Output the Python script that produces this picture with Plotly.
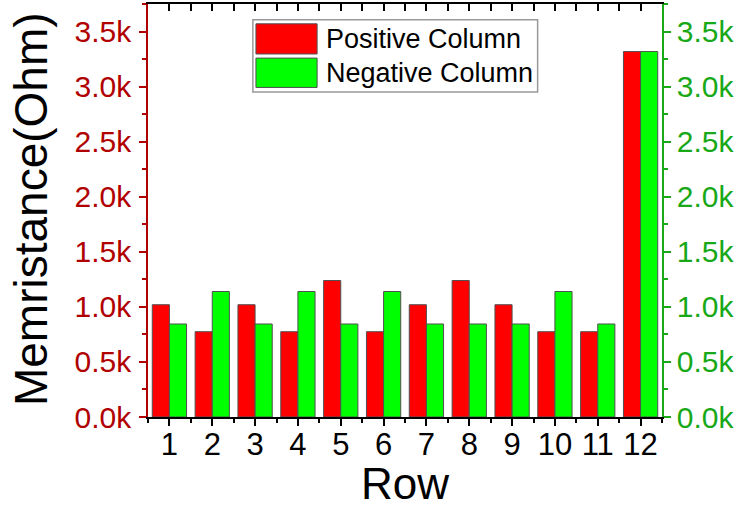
import plotly.graph_objects as go

rows = [1, 2, 3, 4, 5, 6, 7, 8, 9, 10, 11, 12]
positive_column = [1020, 775, 1020, 775, 1240, 775, 1020, 1240, 1020, 775, 775, 3320]
negative_column = [845, 1140, 845, 1140, 845, 1140, 845, 845, 845, 1140, 845, 3320]
ytick_vals = [0, 500, 1000, 1500, 2000, 2500, 3000, 3500]
ytick_text = ["0.0k", "0.5k", "1.0k", "1.5k", "2.0k", "2.5k", "3.0k", "3.5k"]
series_names = ["Positive Column", "Negative Column"]
y_title = "Memristance(Ohm)"

RED = "#FF0000"
GREEN = "#00FF00"
DARKRED = "#B00000"
DARKGREEN = "#18A818"
FONT = "Liberation Sans, Arial, sans-serif"
YMAX = 3752

fig = go.Figure()
fig.add_trace(go.Bar(x=rows, y=positive_column, name=series_names[0],
                     marker=dict(color=RED, line=dict(color="#505050", width=1)),
                     offset=-0.4, width=0.4, showlegend=False))
fig.add_trace(go.Bar(x=rows, y=negative_column, name=series_names[1],
                     marker=dict(color=GREEN, line=dict(color="#505050", width=1)),
                     offset=0.0, width=0.4, showlegend=False))
# helper trace to create the mirrored top/right axes
fig.add_trace(go.Scatter(x=rows, y=negative_column, xaxis="x2", yaxis="y2",
                         mode="markers", marker=dict(opacity=0), hoverinfo="skip",
                         showlegend=False))

fig.update_layout(
    width=747, height=508,
    margin=dict(l=148, r=85, t=4, b=91),
    paper_bgcolor="white", plot_bgcolor="white",
    font=dict(family=FONT, color="black"),
    xaxis=dict(range=[0.5, 12.5], tickmode="array", tickvals=rows,
               ticktext=[str(r) for r in rows],
               showline=True, linecolor="black", linewidth=1.5,
               ticks="outside", ticklen=7, tickwidth=1.5, tickcolor="black",
               minor=dict(tickmode="linear", tick0=0.5, dtick=1, ticks="outside",
                          ticklen=4, tickcolor="black", tickwidth=1.5),
               tickfont=dict(size=31, color="black", family=FONT),
               ticklabelstandoff=-8,
               showgrid=False, zeroline=False,
               title=dict(text="Row", font=dict(size=44, color="black", family=FONT),
                          standoff=0)),
    yaxis=dict(range=[0, YMAX], tickmode="array", tickvals=ytick_vals, ticktext=ytick_text,
               showline=True, linecolor=DARKRED, linewidth=1.5,
               ticks="outside", ticklen=7, tickwidth=1.5, tickcolor=DARKRED,
               minor=dict(tickmode="linear", tick0=0, dtick=250, ticks="outside",
                          ticklen=4, tickcolor=DARKRED, tickwidth=1.5),
               tickfont=dict(size=30, color=DARKRED, family=FONT),
               ticklabelstandoff=2,
               showgrid=False, zeroline=False),
    xaxis2=dict(range=[0.5, 12.5], overlaying="x", side="top", anchor="y2",
                tickmode="linear", tick0=0.5, dtick=0.5, ticks="inside",
                ticklen=7, tickwidth=1.5, tickcolor="black",
                showticklabels=False, showline=True, linecolor="black", linewidth=1.5,
                showgrid=False, zeroline=False),
    yaxis2=dict(range=[0, YMAX], overlaying="y", side="right", anchor="x2",
                tickmode="array", tickvals=ytick_vals, ticktext=ytick_text,
                showline=True, linecolor=DARKGREEN, linewidth=1.5,
                ticks="outside", ticklen=7, tickwidth=1.5, tickcolor=DARKGREEN,
                minor=dict(tickmode="linear", tick0=0, dtick=250, ticks="outside",
                           ticklen=4, tickcolor=DARKGREEN, tickwidth=1.5),
                tickfont=dict(size=30, color=DARKGREEN, family=FONT),
                showgrid=False, zeroline=False),
    bargap=0.2,
)

# Y axis title
fig.add_annotation(xref="paper", yref="paper", x=-0.228, y=0.503, text=y_title,
                   textangle=-90, showarrow=False, xanchor="center", yanchor="middle",
                   font=dict(size=46, color="black", family=FONT))

# Legend drawn as a boxed key
fig.add_shape(type="rect", xref="paper", yref="paper", x0=0.204, x1=0.758, y0=0.787, y1=0.962,
              line=dict(color="#999999", width=1.5), fillcolor="white", layer="above")
fig.add_shape(type="rect", xref="paper", yref="paper", x0=0.210, x1=0.329, y0=0.879, y1=0.952,
              line=dict(color="#505050", width=1), fillcolor=RED, layer="above")
fig.add_shape(type="rect", xref="paper", yref="paper", x0=0.210, x1=0.329, y0=0.798, y1=0.869,
              line=dict(color="#505050", width=1), fillcolor=GREEN, layer="above")
fig.add_annotation(xref="paper", yref="paper", x=0.343, y=0.916, text=series_names[0],
                   showarrow=False, xanchor="left", yanchor="middle",
                   font=dict(size=27, color="black", family=FONT))
fig.add_annotation(xref="paper", yref="paper", x=0.343, y=0.834, text=series_names[1],
                   showarrow=False, xanchor="left", yanchor="middle",
                   font=dict(size=27, color="black", family=FONT))

fig.write_html("out.html")
